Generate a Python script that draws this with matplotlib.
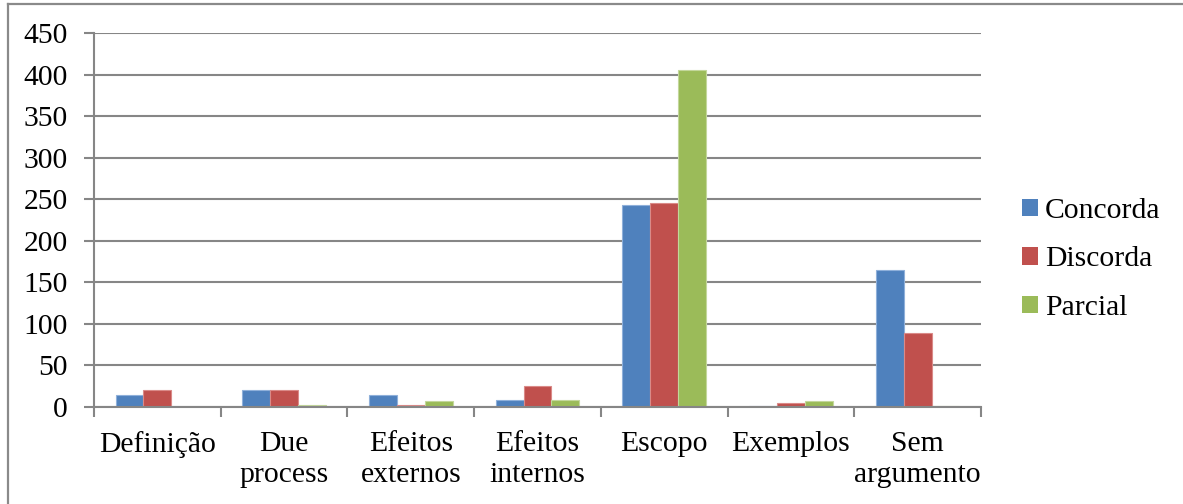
import numpy as np
import matplotlib
matplotlib.use("Agg")
import matplotlib.pyplot as plt
from matplotlib.lines import Line2D
from matplotlib.patches import Patch

categories = ["Definição", "Due\nprocess", "Efeitos\nexternos", "Efeitos\ninternos",
              "Escopo", "Exemplos", "Sem\nargumento"]
series_names = ["Concorda", "Discorda", "Parcial"]
concorda = [15, 21, 14, 8, 243, 1, 165]
discorda = [20, 21, 3, 25, 245, 5, 89]
parcial = [0, 3, 7, 9, 406, 7, 1]
yticks = [0, 50, 100, 150, 200, 250, 300, 350, 400, 450]

colors = ["#4F81BD", "#C0504D", "#9BBB59"]
edges = ["#8FB0DA", "#DA8A88", "#C3D79B"]
grid_c = "#868686"

plt.rcParams["font.family"] = ["Liberation Serif", "DejaVu Serif"]
fs = 21.3

fig = plt.figure(figsize=(11.83, 5.04), dpi=100)
ax = fig.add_axes([94 / 1183, 1 - 407 / 504, (981 - 94) / 1183, (407 - 33) / 504])

x = np.arange(len(categories))
bw = 0.22
for i, (vals, c, e) in enumerate(zip([concorda, discorda, parcial], colors, edges)):
    ax.bar(x + (i - 1) * bw, vals, width=bw, color=c, edgecolor=e, linewidth=0.8,
           label=series_names[i], zorder=3)

ax.set_xlim(-0.5, len(categories) - 0.5)
ax.set_ylim(0, 450)
ax.set_yticks(yticks)
ax.set_yticklabels([str(v) for v in yticks])
ax.yaxis.grid(True, color=grid_c, linewidth=1.5, zorder=0)
ax.set_axisbelow(True)

# category labels centred, ticks at category boundaries
ax.set_xticks(np.arange(len(categories) + 1) - 0.5)
ax.set_xticklabels([])
ax.set_xticks(x, minor=True)
ax.set_xticklabels(categories, minor=True, fontsize=fs, linespacing=1.29)
ax.tick_params(axis="x", which="minor", length=0, pad=17)
ax.tick_params(axis="x", which="major", length=7, width=1.5, color=grid_c, direction="out")
ax.tick_params(axis="y", length=7, width=1.5, color=grid_c, labelsize=fs, pad=12)

for s in ["top", "right"]:
    ax.spines[s].set_visible(False)
for s in ["left", "bottom"]:
    ax.spines[s].set_color(grid_c)
    ax.spines[s].set_linewidth(1.5)
    ax.spines[s].set_zorder(4)

handles = [Patch(facecolor=c, edgecolor="none") for c in colors]
fig.legend(handles, series_names, loc="upper left", bbox_to_anchor=(1022 / 1183, 1 - 198 / 504),
           frameon=False, fontsize=fs, handlelength=0.55, handleheight=0.55,
           handletextpad=0.22, labelspacing=0.76, borderaxespad=0, borderpad=0)

# outer frame of the chart area
fig.add_artist(Line2D([7.5 / 1183, 7.5 / 1183], [0, 1 - 3.5 / 504], transform=fig.transFigure,
                      color="#8A8A8A", linewidth=1.6))
fig.add_artist(Line2D([7.5 / 1183, 1], [1 - 3.5 / 504, 1 - 3.5 / 504], transform=fig.transFigure,
                      color="#8A8A8A", linewidth=1.6))

fig.savefig("out.png", dpi=100)
